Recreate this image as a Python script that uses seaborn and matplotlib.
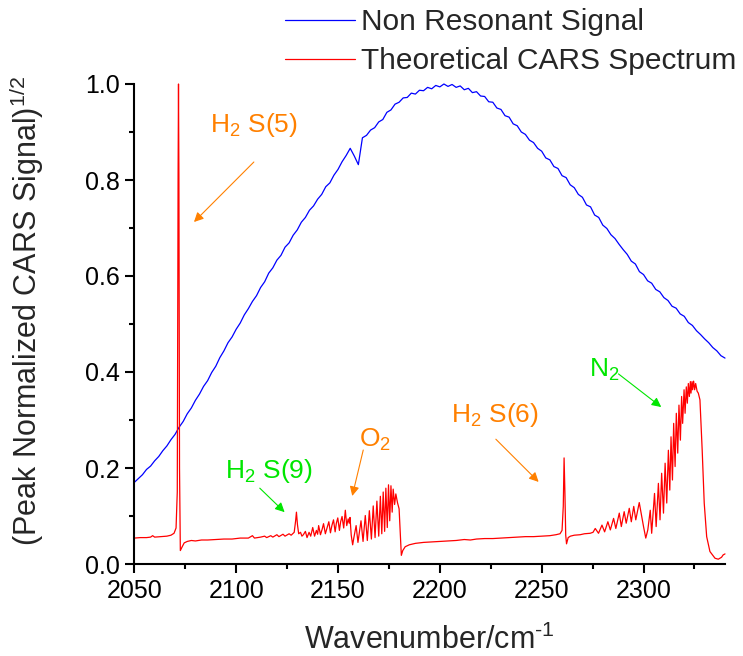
import numpy as np
import pandas as pd
import seaborn as sns
import matplotlib.pyplot as plt
from matplotlib.ticker import MultipleLocator, FormatStrFormatter

sns.set_style('ticks')
plt.rcParams['font.family'] = ['Liberation Sans', 'DejaVu Sans']
plt.rcParams['mathtext.fontset'] = 'custom'
plt.rcParams['mathtext.rm'] = 'Liberation Sans'
plt.rcParams['mathtext.default'] = 'regular'

# Non resonant signal, sampled every 2 cm-1 from 2050 to 2340
nr_wn = np.arange(2050, 2341, 2)
nr_sig = [0.170, 0.178, 0.186, 0.197, 0.204, 0.215, 0.224, 0.236, 0.246, 0.259,
          0.270, 0.285, 0.297, 0.313, 0.325, 0.341, 0.354, 0.370, 0.382, 0.399,
          0.412, 0.430, 0.444, 0.461, 0.473, 0.489, 0.502, 0.519, 0.532, 0.547,
          0.559, 0.576, 0.588, 0.606, 0.617, 0.633, 0.643, 0.660, 0.669, 0.685,
          0.696, 0.712, 0.722, 0.737, 0.746, 0.760, 0.770, 0.786, 0.794, 0.810,
          0.822, 0.838, 0.851, 0.866, 0.850, 0.832, 0.888, 0.893, 0.904, 0.909,
          0.921, 0.926, 0.941, 0.946, 0.958, 0.962, 0.971, 0.972, 0.981, 0.979,
          0.987, 0.986, 0.993, 0.990, 0.997, 0.994, 1.000, 0.995, 0.999, 0.993,
          0.996, 0.988, 0.991, 0.982, 0.984, 0.975, 0.974, 0.963, 0.962, 0.950,
          0.947, 0.934, 0.931, 0.917, 0.913, 0.900, 0.895, 0.883, 0.878, 0.866,
          0.860, 0.846, 0.842, 0.828, 0.824, 0.809, 0.805, 0.790, 0.784, 0.770,
          0.764, 0.748, 0.744, 0.727, 0.722, 0.706, 0.699, 0.686, 0.678, 0.666,
          0.655, 0.645, 0.631, 0.625, 0.609, 0.603, 0.590, 0.585, 0.572, 0.567,
          0.555, 0.549, 0.537, 0.533, 0.521, 0.516, 0.503, 0.497, 0.486, 0.478,
          0.469, 0.461, 0.451, 0.444, 0.434, 0.429]

# Theoretical CARS spectrum (wavenumber, signal), segment by segment
cars_wn = [
    # baseline + H2 S(5)
    2050, 2053, 2056, 2058, 2059, 2060, 2063, 2066, 2068, 2069.5, 2070.5, 2071.1,
    2071.5, 2071.7, 2071.9, 2072.2, 2072.6, 2073.4, 2074.5, 2076, 2078,
    # baseline + H2 S(9)
    2080, 2083, 2086, 2090, 2094, 2098, 2102, 2106, 2108, 2109, 2112, 2114, 2115,
    2117, 2118, 2120, 2121, 2123, 2124, 2126, 2127, 2128.5, 2129.2, 2129.6, 2130.1,
    2130.7, 2131.6, 2132.3,
    # O2 band, first part
    2133.0, 2134.0, 2134.8, 2135.8, 2136.6, 2137.6, 2138.5, 2139.4, 2140.0, 2140.5,
    2141.4, 2142.2, 2142.9, 2143.8, 2144.6, 2145.5, 2146.3, 2147.0, 2147.8, 2148.6,
    2149.2, 2149.9, 2150.7, 2151.3, 2152.0, 2152.8, 2153.6, 2154.3, 2155.0, 2155.5,
    2155.9, 2156.5, 2157.2, 2157.8, 2158.9, 2159.8,
    # O2 band head
    2161.3, 2162.3, 2163.4, 2164.4, 2165.4, 2166.4, 2167.3, 2168.2, 2169.1, 2170.0,
    2170.8, 2171.5, 2172.2, 2172.9, 2173.5, 2174.2, 2174.8, 2175.4, 2176.0, 2176.6,
    2177.1, 2177.8, 2178.4, 2179.2, 2180.0, 2180.6, 2181.1, 2181.8, 2183.0, 2185.0,
    # baseline + H2 S(6)
    2188, 2192, 2196, 2200, 2204, 2208, 2212, 2215, 2218, 2222, 2226, 2230, 2234,
    2238, 2242, 2246, 2250, 2254, 2257, 2259.0, 2260.0, 2260.6, 2261.0, 2261.4,
    2261.8, 2262.2, 2263.0, 2264.1, 2266, 2268.9, 2271, 2273.8, 2275.2,
    # weak lines before N2
    2276.3, 2277.9, 2279.6, 2280.9, 2282.5, 2283.7, 2285.3, 2286.4, 2288.1, 2289.1,
    2290.5, 2291.5, 2293.0, 2294.0, 2295.2, 2296.2, 2297.9, 2299.1, 2300.0, 2301.1,
    2302.1,
    # N2 band
    2303.3, 2304.0, 2305.4, 2306.2, 2307.3, 2308.1, 2308.9, 2309.8, 2310.6, 2311.4,
    2312.2, 2312.9, 2313.5, 2314.2, 2314.8, 2315.5, 2316.1, 2316.8, 2317.4, 2318.1,
    2318.7, 2319.2, 2319.9, 2320.4, 2321.0, 2321.5, 2322.0, 2322.5, 2323.0, 2323.3,
    2323.8, 2324.1, 2324.6, 2325.1, 2325.6, 2326.3, 2326.9, 2327.7, 2328.8, 2329.8,
    2331.0, 2332.6, 2335.1, 2336.7, 2338.3, 2339.1, 2340.0,
]
cars_sig = [
    0.054, 0.055, 0.055, 0.056, 0.059, 0.056, 0.057, 0.058, 0.060, 0.064, 0.075, 0.150,
    0.810, 1.000, 0.810, 0.200, 0.028, 0.035, 0.044, 0.047, 0.049,
    0.048, 0.050, 0.050, 0.051, 0.052, 0.052, 0.054, 0.054, 0.059, 0.054, 0.056, 0.058, 0.055,
    0.059, 0.056, 0.061, 0.057, 0.062, 0.058, 0.063, 0.060, 0.066, 0.090, 0.108, 0.082,
    0.063, 0.066, 0.058,
    0.061, 0.068, 0.055, 0.066, 0.058, 0.076, 0.058, 0.070, 0.062, 0.080,
    0.061, 0.072, 0.084, 0.063, 0.075, 0.088, 0.065, 0.080, 0.092, 0.067,
    0.085, 0.096, 0.070, 0.088, 0.099, 0.075, 0.112, 0.080, 0.094, 0.085,
    0.097, 0.060, 0.040, 0.055, 0.080, 0.045,
    0.090, 0.047, 0.101, 0.049, 0.111, 0.052, 0.121, 0.055, 0.131, 0.058,
    0.141, 0.063, 0.150, 0.068, 0.158, 0.076, 0.165, 0.090, 0.163, 0.108,
    0.156, 0.124, 0.146, 0.128, 0.115, 0.060, 0.018, 0.028, 0.036, 0.040,
    0.043, 0.045, 0.046, 0.047, 0.048, 0.049, 0.051, 0.050, 0.052, 0.053, 0.053, 0.054, 0.055,
    0.056, 0.057, 0.057, 0.058, 0.059, 0.061, 0.063, 0.070, 0.120, 0.221, 0.150,
    0.060, 0.042, 0.055, 0.058, 0.060, 0.061, 0.063, 0.064, 0.066,
    0.074, 0.064, 0.081, 0.067, 0.088, 0.071, 0.095, 0.074, 0.106, 0.078,
    0.109, 0.085, 0.116, 0.088, 0.120, 0.092, 0.128, 0.099, 0.078, 0.054,
    0.071,
    0.112, 0.064, 0.147, 0.078, 0.168, 0.092, 0.189, 0.106, 0.210, 0.127,
    0.237, 0.154, 0.265, 0.175, 0.293, 0.203, 0.314, 0.231, 0.331, 0.258,
    0.349, 0.293, 0.363, 0.314, 0.369, 0.335, 0.376, 0.349, 0.380, 0.356,
    0.380, 0.363, 0.381, 0.363, 0.376, 0.360, 0.356, 0.342, 0.237, 0.127,
    0.057, 0.026, 0.012, 0.010, 0.014, 0.019, 0.021,
]

nr = pd.DataFrame({'wn': nr_wn, 'sig': nr_sig})
cars = pd.DataFrame({'wn': cars_wn, 'sig': cars_sig})

orange = '#FF8000'
green = '#00E600'

fig = plt.figure(figsize=(7.43, 6.56), dpi=100)
ax = fig.add_axes([134.3 / 743, 92 / 656, 590.7 / 743, 480 / 656])

sns.lineplot(data=nr, x='wn', y='sig', ax=ax, color='#0000FF', lw=0.9,
             estimator=None, label='Non Resonant Signal', clip_on=False)
sns.lineplot(data=cars, x='wn', y='sig', ax=ax, color='#FF0000', lw=0.9,
             estimator=None, label='Theoretical CARS Spectrum', clip_on=False)

ax.set_xlim(2050, 2340)
ax.set_ylim(0, 1.0)
ax.xaxis.set_major_locator(MultipleLocator(50))
ax.xaxis.set_minor_locator(MultipleLocator(25))
ax.yaxis.set_major_locator(MultipleLocator(0.2))
ax.yaxis.set_minor_locator(MultipleLocator(0.1))
ax.yaxis.set_major_formatter(FormatStrFormatter('%.1f'))

for side in ['top', 'right']:
    ax.spines[side].set_visible(False)
for side in ['left', 'bottom']:
    ax.spines[side].set_linewidth(1.5)
    ax.spines[side].set_color('black')
ax.tick_params(which='major', direction='out', length=6.5, width=1.5,
               labelsize=18, pad=4, colors='black')
ax.tick_params(which='minor', direction='out', length=3.3, width=1.5, colors='black')

ax.set_xlabel('Wavenumber/cm$^{\u2010 1}$', fontsize=22)
ax.set_ylabel(r'(Peak Normalized CARS Signal)$^{1/2}$', fontsize=22)
ax.xaxis.set_label_coords(0.5, -0.127)
ax.yaxis.set_label_coords(-0.15, 0.527)

# peak labels and arrows
arrow_kw = dict(arrowstyle='-|>', lw=0.8, mutation_scale=14, shrinkA=0, shrinkB=0)
ax.annotate('', xy=(2079.3, 0.7125), xytext=(2108.7, 0.8375),
            arrowprops=dict(color=orange, **arrow_kw))
ax.text(2087.0, 0.9006, r'H$_2$ S(5)', color=orange, fontsize=19, va='baseline')

ax.annotate('', xy=(2123.8, 0.108), xytext=(2111.6, 0.158),
            arrowprops=dict(color=green, **arrow_kw))
ax.text(2094.4, 0.1785, r'H$_2$ S(9)', color=green, fontsize=19, va='baseline')

ax.annotate('', xy=(2157.0, 0.1417), xytext=(2162.4, 0.2375),
            arrowprops=dict(color=orange, **arrow_kw))
ax.text(2160.1, 0.2444, r'O$_2$', color=orange, fontsize=19, va='baseline')

ax.annotate('', xy=(2248.5, 0.171), xytext=(2227.5, 0.260),
            arrowprops=dict(color=orange, **arrow_kw))
ax.text(2205.5, 0.2965, r'H$_2$ S(6)', color=orange, fontsize=19, va='baseline')

ax.annotate('', xy=(2308.7, 0.327), xytext=(2287.7, 0.396),
            arrowprops=dict(color=green, **arrow_kw))
ax.text(2273.0, 0.390, r'N$_2$', color=green, fontsize=19, va='baseline')

ax.legend(loc='upper left', bbox_to_anchor=(285 / 743, 1 - 8 / 656),
          bbox_transform=fig.transFigure, frameon=False, fontsize=21.5,
          handlelength=2.33, handletextpad=0.23, labelspacing=0.37,
          borderpad=0, borderaxespad=0)

fig.savefig('out.png', dpi=100)
